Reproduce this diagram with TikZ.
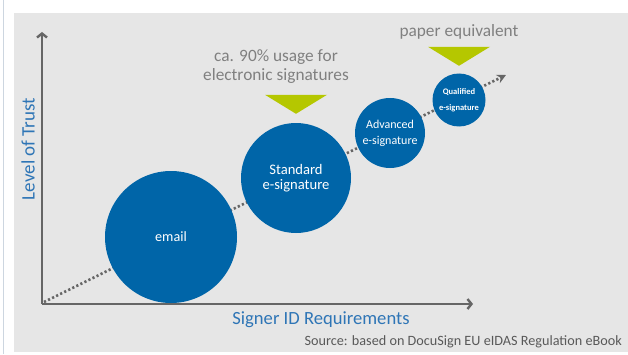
\documentclass[tikz,border=0pt]{standalone}
\usepackage{fontspec}
\setmainfont{Carlito}
\usetikzlibrary{positioning, arrows.meta}

\definecolor{sig_blue}{RGB}{0,101,168}
\definecolor{axis_blue}{RGB}{46,117,182}
\definecolor{lime}{RGB}{181,199,0}
\definecolor{panel_grey}{RGB}{230,230,230}
\definecolor{axis_grey}{RGB}{102,102,102}
\definecolor{note_grey}{RGB}{128,128,128}
\definecolor{edge_grey}{RGB}{205,214,224}

\begin{document}
\begin{tikzpicture}
    [
        x=1pt, y=1pt, inner sep=0pt,
        sig_node/.style={circle, fill=sig_blue, text=white, align=center, inner sep=0pt},
        axis_line/.style={line width=2.4pt, draw=axis_grey, -{Straight Barb[length=4pt, width=10pt]}},
        marker/.style={fill=lime},
        note/.style={text=note_grey, align=center, font=\fontsize{17.3}{19.5}\selectfont},
        axis_label/.style={text=axis_blue},
    ]
        \useasboundingbox (0,0) rectangle (628,354);
        \fill[panel_grey] (14,2) rectangle (628,341);
        \draw[line width=0.8pt, color=edge_grey] (3,0) -- (3,354);
        % axes
        \coordinate (origin) at (42,50);
        \coordinate (trust_end) at (42,322);
        \coordinate (id_end) at (473,50);
        \coordinate (trend_start) at (44,52);
        \coordinate (trend_end) at (506,279);
        \draw[axis_line] (origin) -- (trust_end) ;
        \draw[axis_line] (origin) -- (id_end) ;
        \draw[line width=2.6pt, color=axis_grey, dash pattern=on 2.2pt off 2.3pt, -{Stealth[length=9pt, width=9pt]}] (trend_start) -- (trend_end) ;
        % signature levels
        \node[sig_node, minimum size=132pt, font=\fontsize{14.2}{16}\selectfont] (email) at (171,117) {email} ;
        \node[sig_node, minimum size=110pt, font=\fontsize{14.6}{15}\selectfont] (std) at (296,176) {Standard\\e-signature} ;
        \node[sig_node, minimum size=70pt, font=\fontsize{12}{16}\selectfont] (adv) at (390,221) {Advanced\\e-signature} ;
        \node[sig_node, minimum size=53pt, font=\bfseries\fontsize{8.5}{16}\selectfont] (qual) at (459,254) {Qualified\\e-signature} ;
        % markers and notes
        \coordinate[above = 9pt of std] (std_tip) ;
        \coordinate[above = 7.5pt of qual] (qual_tip) ;
        \fill[marker] (std_tip) -- ++(-31,19) -- ++(62,0) -- cycle ;
        \fill[marker] (qual_tip) -- ++(-31,19) -- ++(62,0) -- cycle ;
        \node[note, above left = 30pt and -53pt of std_tip] (usage) {ca. 90\% usage for\\electronic signatures} ;
        \node[note, above = 26pt of qual_tip] (paper) {paper equivalent} ;
        % axis labels
        \node[axis_label, rotate=90, font=\fontsize{19}{22}\selectfont] (trust) at (28,205) {Level of Trust} ;
        \node[axis_label, font=\fontsize{18.6}{21}\selectfont] (signer) at (321,34) {Signer ID Requirements} ;
        \node[anchor=east, text=black!65, font=\fontsize{14.2}{16}\selectfont] (source) at (622,12) {Source: based on DocuSign EU eIDAS Regulation eBook} ;
    \end{tikzpicture}
\end{document}
